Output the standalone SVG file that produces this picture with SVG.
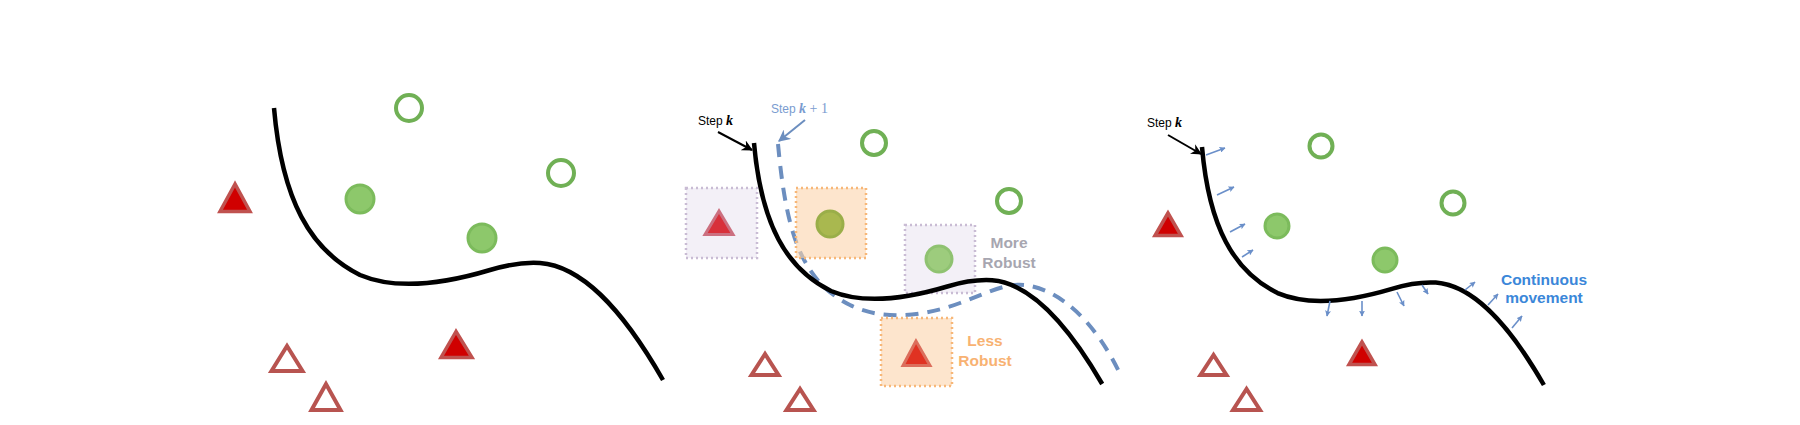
<svg xmlns="http://www.w3.org/2000/svg" width="1800" height="425" viewBox="0 0 1800 425">
<style>
  .bound { fill: none; stroke: #000; stroke-width: 4.5; stroke-linecap: butt; stroke-linejoin: round; }
  .next { fill: none; stroke: #6c8ebf; stroke-width: 4; stroke-dasharray: 13 9; }
  .ptr { fill: none; stroke: #000; stroke-width: 2; }
  .ptrb { fill: none; stroke: #6c8ebf; stroke-width: 2; }
  .mv { fill: none; stroke: #6a8fc9; stroke-width: 1.6; }
  .cf { fill: #8dc86b; stroke: #7cbb5c; stroke-width: 3; }
  .co { fill: #fff; stroke: #70b055; stroke-width: 4; }
  .tf { fill: #d00000; stroke: #c0524f; stroke-width: 3.5; }
  .to { fill: #fff; stroke: #b85450; stroke-width: 4; }
  .boxO { fill: #fcd4ac; fill-opacity: 0.6; }
  .boxP { fill: #ebe6f2; fill-opacity: 0.6; }
  .brdO { fill: none; stroke: #f7b778; stroke-width: 2.5; stroke-dasharray: 2 3; }
  .brdP { fill: none; stroke: #c9bcd4; stroke-width: 2.5; stroke-dasharray: 2 3; }
  .lbl { font-family: "Liberation Sans", Arial, sans-serif; font-size: 12px; }
  .mth { font-family: "Liberation Serif", "Times New Roman", serif; font-style: italic; font-weight: bold; font-size: 14px; }
  .mthr { font-family: "Liberation Serif", "Times New Roman", serif; font-size: 14px; }
  .note { font-family: "Liberation Sans", Arial, sans-serif; font-weight: bold; font-size: 15.5px; text-anchor: middle; }
</style>
<defs>
  <marker id="ahK" viewBox="0 0 10 10" refX="9" refY="5" markerWidth="11" markerHeight="11" markerUnits="userSpaceOnUse" orient="auto">
    <path d="M0,0 L10,5 L0,10 L3,5 z" fill="#000"/>
  </marker>
  <marker id="ahB" viewBox="0 0 10 10" refX="9" refY="5" markerWidth="12" markerHeight="12" markerUnits="userSpaceOnUse" orient="auto">
    <path d="M0,0 L10,5 L0,10 L3,5 z" fill="#6c8ebf"/>
  </marker>
  <marker id="ahS" viewBox="0 0 10 10" refX="9" refY="5" markerWidth="6" markerHeight="6" markerUnits="userSpaceOnUse" orient="auto">
    <path d="M0,0 L10,5 L0,10 L2,5 z" fill="#6a8fc9"/>
  </marker>
</defs>
<rect width="1800" height="425" fill="#fff"/>

<!-- Panel 2 dashed next-step boundary (under boxes) -->
<g id="connectors-under">
  <path class="next" d="M778,144 C786,230 800,280 850,305 C880,320 920,318 960,303 C990,292 1005,283 1025,285 C1060,290 1095,320 1122,378"/>
</g>

<!-- Panel 1 nodes -->
<g id="p1-open-circle-1"><circle class="co" cx="409" cy="108" r="13"/></g>
<g id="p1-open-circle-2"><circle class="co" cx="561" cy="173" r="13"/></g>
<g id="p1-circle-1"><circle class="cf" cx="360" cy="199" r="14"/></g>
<g id="p1-circle-2"><circle class="cf" cx="482" cy="238" r="14"/></g>
<g id="p1-triangle-1"><polygon class="tf" points="235,184 220,211.5 250,211.5"/></g>
<g id="p1-triangle-2"><polygon class="tf" points="456,331.5 441,357.5 472,357.5"/></g>
<g id="p1-open-triangle-1"><polygon class="to" points="287,346 271.5,371 302.5,371"/></g>
<g id="p1-open-triangle-2"><polygon class="to" points="326,384 311.5,410 340.5,410"/></g>

<!-- Panel 2 nodes -->
<g id="p2-box-triangle">
  <rect class="boxP" x="686" y="188" width="71" height="70"/>
  <polygon points="719,211 705,234.5 733,234.5" fill="#d8303a" stroke="#cc7080" stroke-width="3"/>
  <rect class="brdP" x="686" y="188" width="71" height="70"/>
</g>
<g id="p2-box-circle-orange">
  <rect class="boxO" x="796" y="188" width="70" height="70"/>
  <circle cx="830" cy="224" r="13" fill="#a9b84f" stroke="#9aae49" stroke-width="3"/>
  <rect class="brdO" x="796" y="188" width="70" height="70"/>
</g>
<g id="p2-box-circle-gray">
  <rect class="boxP" x="905" y="225" width="70" height="68"/>
  <circle cx="939" cy="259" r="13" fill="#9dcc7d" stroke="#8fc271" stroke-width="3"/>
  <rect class="brdP" x="905" y="225" width="70" height="68"/>
</g>
<g id="p2-box-triangle-orange">
  <rect class="boxO" x="881" y="318" width="71" height="68"/>
  <polygon points="916,341 903,365.5 930,365.5" fill="#e03222" stroke="#dc6e5c" stroke-width="3"/>
  <rect class="brdO" x="881" y="318" width="71" height="68"/>
</g>
<g id="p2-open-circle-1"><circle class="co" cx="874" cy="143" r="12"/></g>
<g id="p2-open-circle-2"><circle class="co" cx="1009" cy="201" r="12"/></g>
<g id="p2-open-triangle-1"><polygon class="to" points="765,354 751.5,375 778.5,375"/></g>
<g id="p2-open-triangle-2"><polygon class="to" points="800,389 786.5,410 813.5,410"/></g>
<g id="p2-label-more">
  <text class="note" fill="#a7a6b0"><tspan x="1009" y="248">More</tspan><tspan x="1009" y="268">Robust</tspan></text>
</g>
<g id="p2-label-less">
  <text class="note" fill="#f8b272"><tspan x="985" y="346">Less</tspan><tspan x="985" y="366">Robust</tspan></text>
</g>
<g id="p2-label-stepk">
  <text class="lbl" x="698" y="125" fill="#000">Step <tspan class="mth">k</tspan></text>
</g>
<g id="p2-label-stepk1">
  <text class="lbl" x="771" y="113" fill="#7a9cd0">Step <tspan class="mth">k</tspan><tspan class="mthr"> + 1</tspan></text>
</g>

<!-- Panel 3 nodes -->
<g id="p3-open-circle-1"><circle class="co" cx="1321" cy="146" r="11.5"/></g>
<g id="p3-open-circle-2"><circle class="co" cx="1453" cy="203" r="11.5"/></g>
<g id="p3-circle-1"><circle class="cf" cx="1277" cy="226" r="12"/></g>
<g id="p3-circle-2"><circle class="cf" cx="1385" cy="260" r="12"/></g>
<g id="p3-triangle-1"><polygon class="tf" points="1168,213 1155,235.5 1181,235.5"/></g>
<g id="p3-triangle-2"><polygon class="tf" points="1362,342 1349,364.5 1375,364.5"/></g>
<g id="p3-open-triangle-1"><polygon class="to" points="1213.5,355 1200.5,375 1226.5,375"/></g>
<g id="p3-open-triangle-2"><polygon class="to" points="1246.5,389 1233,410 1260,410"/></g>
<g id="p3-label-stepk">
  <text class="lbl" x="1147" y="127" fill="#000">Step <tspan class="mth">k</tspan></text>
</g>
<g id="p3-label-move">
  <text class="note" fill="#3b87d9"><tspan x="1544" y="285">Continuous</tspan><tspan x="1544" y="303">movement</tspan></text>
</g>

<!-- Connectors: decision boundaries and arrows -->
<g id="connectors">
  <path class="bound" d="M274,108 C282,200 310,250 360,275 C400,292 450,282 490,270 C510,264 525,262 540,263 C580,266 620,305 663,380"/>
  <path class="bound" d="M754,143 C761.2,224.5 786.2,268.8 831,291 C866.8,306 911.5,297.2 947.3,286.5 C965.2,281.2 978.6,279.4 992.1,280.3 C1027.9,283 1063.7,317.5 1102.2,384"/>
  <path class="bound" d="M1202,147 C1209,227.5 1233.6,271.3 1277.6,293.1 C1312.8,308 1356.7,299.3 1391.9,288.8 C1409.4,283.5 1422.6,281.8 1435.8,282.6 C1471,285.3 1506.1,319.4 1543.9,385"/>
  <line class="ptr" x1="718" y1="132" x2="752" y2="150" marker-end="url(#ahK)"/>
  <line class="ptrb" x1="805" y1="120" x2="779" y2="141" marker-end="url(#ahB)"/>
  <line class="ptr" x1="1168" y1="135" x2="1201" y2="154" marker-end="url(#ahK)"/>
  <line class="mv" x1="1206" y1="155" x2="1225" y2="148" marker-end="url(#ahS)"/>
  <line class="mv" x1="1217" y1="195" x2="1234" y2="187" marker-end="url(#ahS)"/>
  <line class="mv" x1="1230" y1="232" x2="1245" y2="224" marker-end="url(#ahS)"/>
  <line class="mv" x1="1242" y1="257" x2="1253" y2="250" marker-end="url(#ahS)"/>
  <line class="mv" x1="1330" y1="301" x2="1327" y2="316" marker-end="url(#ahS)"/>
  <line class="mv" x1="1362" y1="301" x2="1362" y2="316" marker-end="url(#ahS)"/>
  <line class="mv" x1="1397" y1="292" x2="1404" y2="306" marker-end="url(#ahS)"/>
  <line class="mv" x1="1422" y1="285" x2="1428" y2="294" marker-end="url(#ahS)"/>
  <line class="mv" x1="1465" y1="290" x2="1475" y2="282" marker-end="url(#ahS)"/>
  <line class="mv" x1="1488" y1="305" x2="1498" y2="294" marker-end="url(#ahS)"/>
  <line class="mv" x1="1512" y1="328" x2="1522" y2="316" marker-end="url(#ahS)"/>
</g>
</svg>
